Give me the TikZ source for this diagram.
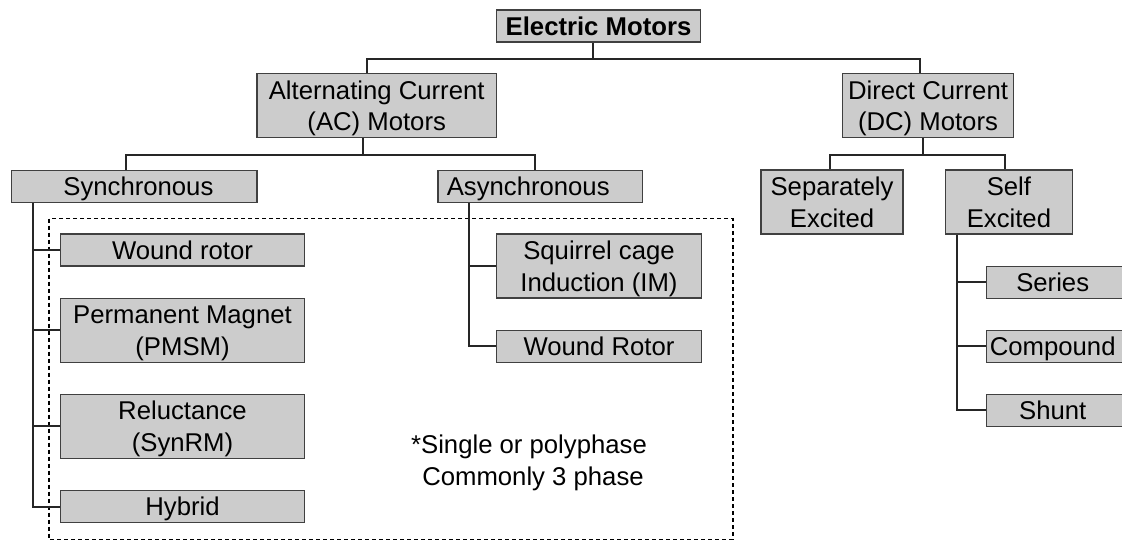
\documentclass[tikz,border=0pt]{standalone}
\usepackage{fontspec}
\setmainfont{Liberation Sans}
\definecolor{boxfill}{HTML}{CCCCCC}
\definecolor{boxline}{HTML}{404040}
\definecolor{conncol}{HTML}{262626}
\newcommand\sst{\rule[-5pt]{0pt}{29pt}}
\begin{document}
\begin{tikzpicture}[x=1pt,y=-1pt,
  box/.style={draw=boxline, line width=1.3pt, fill=boxfill, inner sep=0pt, align=center,
              font=\fontsize{25.7}{31.8}\selectfont, minimum height=32pt},
  tall/.style={minimum height=64pt},
  conn/.style={draw=conncol, line width=2pt},
  dashbox/.style={draw=black, line width=1.8pt, dash pattern=on 4pt off 3pt},
  notetext/.style={align=center, inner sep=0pt, font=\fontsize{25.7}{32.6}\selectfont}
]
\useasboundingbox (0,0) rectangle (1122,541);
\fill[white] (0,0) rectangle (1122,541);
\clip (0,0) rectangle (1122,541);

% dashed group
\draw[dashbox] (49.3,218.5) rectangle (732.7,539.5);
\node[notetext] (note) at (529,460) {\sst *Single or polyphase\\\sst \hspace*{8pt}Commonly 3 phase};

% boxes
\node[box, minimum width=204pt] (em) at (598.5,25.85) {\bfseries\sst Electric Motors};
\node[box, tall, minimum width=239.4pt] (ac) at (376.7,105.7) {\sst Alternating Current\\\sst (AC) Motors};
\node[box, tall, minimum width=171pt] (dc) at (928,105.7) {\sst Direct Current\\\sst (DC) Motors};
\node[box, minimum width=245.2pt] (sync) at (134.4,186.2) {\hspace*{8pt}\sst Synchronous};
\node[box, minimum width=204.6pt] (async) at (540.2,186.2) {\hspace*{-24pt}\sst Asynchronous};
\node[box, tall, minimum width=142pt] (sep) at (832,202) {\sst Separately\\\sst Excited};
\node[box, tall, minimum width=126.8pt] (self) at (1008.9,202) {\sst Self\\\sst Excited};
\node[box, minimum width=243.6pt] (wr) at (182.5,250) {\sst Wound rotor};
\node[box, tall, minimum width=243.6pt] (pm) at (182.5,330.2) {\sst Permanent Magnet\\\sst (PMSM)};
\node[box, tall, minimum width=243.6pt] (rel) at (182.5,426.3) {\sst Reluctance\\\sst (SynRM)};
\node[box, minimum width=243.6pt] (hyb) at (182.5,506.5) {\sst Hybrid};
\node[box, tall, minimum width=205.4pt] (sq) at (599,266) {\sst Squirrel cage\\\sst Induction (IM)};
\node[box, minimum width=205.4pt] (wR) at (599,346.3) {\sst Wound Rotor};
\node[box, minimum width=137.7pt] (ser) at (1055.2,282.2) {\hspace*{-5pt}\sst Series};
\node[box, minimum width=137.7pt] (comp) at (1055.2,346.3) {\hspace*{-5pt}\sst Compound};
\node[box, minimum width=137.7pt] (shunt) at (1055.2,410.3) {\hspace*{-5pt}\sst Shunt};

% connectors
\coordinate (j1) at (593,59.3);
\draw[conn] ([xshift=-5.5pt]em.south) -- (j1);
\draw[conn] ([xshift=-9.7pt]ac.north) |- (j1) -| ([xshift=-8.4pt]dc.north);

\coordinate (j2) at (362.5,155.3);
\draw[conn] ([xshift=-14.2pt]ac.south) -- (j2);
\draw[conn] ([xshift=-8.4pt]sync.north) |- (j2) -| ([xshift=-4.8pt]async.north);

\coordinate (j3) at (922.9,155.3);
\draw[conn] ([xshift=-5.1pt]dc.south) -- (j3);
\draw[conn] ([xshift=-2pt]sep.north) |- (j3) -| ([xshift=-3.9pt]self.north);

\draw[conn] ([xshift=-101.7pt]sync.south) coordinate (sv) |- (hyb.west);
\draw[conn] (sv |- wr.west) -- (wr.west);
\draw[conn] (sv |- pm.west) -- (pm.west);
\draw[conn] (sv |- rel.west) -- (rel.west);

\draw[conn] ([xshift=-70.9pt]async.south) coordinate (av) |- (wR.west);
\draw[conn] (av |- sq.west) -- (sq.west);

\draw[conn] ([xshift=-52.2pt]self.south) coordinate (slv) |- (shunt.west);
\draw[conn] (slv |- ser.west) -- (ser.west);
\draw[conn] (slv |- comp.west) -- (comp.west);
\end{tikzpicture}
\end{document}
